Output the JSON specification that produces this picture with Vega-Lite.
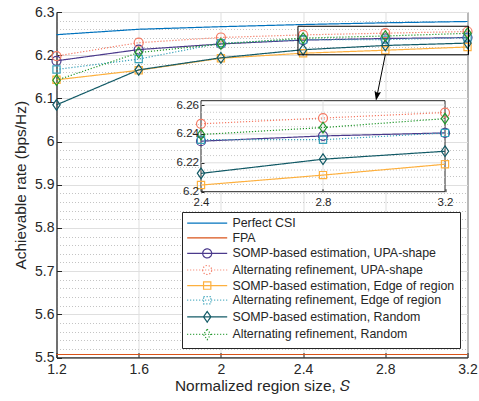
{
  "$schema": "https://vega.github.io/schema/vega-lite/v6.json",
  "width": 411,
  "height": 345.5,
  "autosize": {"type": "none"},
  "padding": {"left": 56.5, "top": 12, "right": 11.5, "bottom": 43.5},
  "background": "white",
  "config": {
    "view": {"stroke": "#262626", "strokeWidth": 1},
    "font": "Liberation Sans",
    "axis": {
      "labelFont": "Liberation Sans",
      "titleFont": "Liberation Sans",
      "labelColor": "#262626",
      "titleColor": "#262626",
      "domainColor": "#262626",
      "tickColor": "#262626",
      "titleFontWeight": "normal",
      "labelFlush": false,
      "labelOverlap": false
    }
  },
  "datasets": {
    "rates": [
      {"series": "Perfect CSI", "S": 1.2, "rate": 6.2475},
      {"series": "Perfect CSI", "S": 1.6, "rate": 6.26},
      {"series": "Perfect CSI", "S": 2.0, "rate": 6.266},
      {"series": "Perfect CSI", "S": 2.4, "rate": 6.271},
      {"series": "Perfect CSI", "S": 2.8, "rate": 6.275},
      {"series": "Perfect CSI", "S": 3.2, "rate": 6.278},
      {"series": "FPA", "S": 1.2, "rate": 5.507},
      {"series": "FPA", "S": 1.6, "rate": 5.507},
      {"series": "FPA", "S": 2.0, "rate": 5.507},
      {"series": "FPA", "S": 2.4, "rate": 5.507},
      {"series": "FPA", "S": 2.8, "rate": 5.507},
      {"series": "FPA", "S": 3.2, "rate": 5.507},
      {"series": "SOMP-based estimation, UPA-shape", "S": 1.2, "rate": 6.187},
      {"series": "SOMP-based estimation, UPA-shape", "S": 1.6, "rate": 6.213},
      {"series": "SOMP-based estimation, UPA-shape", "S": 2.0, "rate": 6.226},
      {"series": "SOMP-based estimation, UPA-shape", "S": 2.4, "rate": 6.235},
      {"series": "SOMP-based estimation, UPA-shape", "S": 2.8, "rate": 6.2386},
      {"series": "SOMP-based estimation, UPA-shape", "S": 3.2, "rate": 6.2407},
      {"series": "Alternating refinement, UPA-shape", "S": 1.2, "rate": 6.198},
      {"series": "Alternating refinement, UPA-shape", "S": 1.6, "rate": 6.229},
      {"series": "Alternating refinement, UPA-shape", "S": 2.0, "rate": 6.241},
      {"series": "Alternating refinement, UPA-shape", "S": 2.4, "rate": 6.247},
      {"series": "Alternating refinement, UPA-shape", "S": 2.8, "rate": 6.251},
      {"series": "Alternating refinement, UPA-shape", "S": 3.2, "rate": 6.2548},
      {"series": "SOMP-based estimation, Edge of region", "S": 1.2, "rate": 6.143},
      {"series": "SOMP-based estimation, Edge of region", "S": 1.6, "rate": 6.165},
      {"series": "SOMP-based estimation, Edge of region", "S": 2.0, "rate": 6.193},
      {"series": "SOMP-based estimation, Edge of region", "S": 2.4, "rate": 6.2046},
      {"series": "SOMP-based estimation, Edge of region", "S": 2.8, "rate": 6.2115},
      {"series": "SOMP-based estimation, Edge of region", "S": 3.2, "rate": 6.219},
      {"series": "Alternating refinement, Edge of region", "S": 1.2, "rate": 6.167},
      {"series": "Alternating refinement, Edge of region", "S": 1.6, "rate": 6.191},
      {"series": "Alternating refinement, Edge of region", "S": 2.0, "rate": 6.228},
      {"series": "Alternating refinement, Edge of region", "S": 2.4, "rate": 6.236},
      {"series": "Alternating refinement, Edge of region", "S": 2.8, "rate": 6.236},
      {"series": "Alternating refinement, Edge of region", "S": 3.2, "rate": 6.2407},
      {"series": "SOMP-based estimation, Random", "S": 1.2, "rate": 6.085},
      {"series": "SOMP-based estimation, Random", "S": 1.6, "rate": 6.166},
      {"series": "SOMP-based estimation, Random", "S": 2.0, "rate": 6.194},
      {"series": "SOMP-based estimation, Random", "S": 2.4, "rate": 6.2127},
      {"series": "SOMP-based estimation, Random", "S": 2.8, "rate": 6.2225},
      {"series": "SOMP-based estimation, Random", "S": 3.2, "rate": 6.228},
      {"series": "Alternating refinement, Random", "S": 1.2, "rate": 6.142},
      {"series": "Alternating refinement, Random", "S": 1.6, "rate": 6.206},
      {"series": "Alternating refinement, Random", "S": 2.0, "rate": 6.226},
      {"series": "Alternating refinement, Random", "S": 2.4, "rate": 6.2396},
      {"series": "Alternating refinement, Random", "S": 2.8, "rate": 6.2444},
      {"series": "Alternating refinement, Random", "S": 3.2, "rate": 6.2506}
    ]
  },
  "layer": [
    {
      "data": {"values": [{}]},
      "mark": {"type": "rule", "opacity": 0},
      "encoding": {
        "y": {
          "datum": 5.5, "type": "quantitative",
          "scale": {"domain": [5.5, 6.3], "nice": false, "zero": false},
          "axis": {
            "orient": "left",
            "values": [5.52,5.54,5.56,5.58,5.62,5.64,5.66,5.68,5.72,5.74,5.76,5.78,5.82,5.84,5.86,5.88,5.92,5.94,5.96,5.98,6.02,6.04,6.06,6.08,6.12,6.14,6.16,6.18,6.22,6.24,6.26,6.28],
            "grid": true, "gridColor": "#C4C4C4", "gridDash": [1, 2], "gridWidth": 1,
            "labels": false, "ticks": false, "domain": false, "title": null, "zindex": 0
          }
        }
      }
    },
    {
      "data": {"name": "rates"},
      "layer": [
        {
          "mark": {"type": "line", "strokeWidth": 1.2},
          "encoding": {
            "x": {
              "field": "S", "type": "quantitative",
              "scale": {"domain": [1.2, 3.2], "nice": false, "zero": false},
              "axis": {
                "values": [1.2, 1.6, 2, 2.4, 2.8, 3.2],
                "format": "~g",
                "title": "Normalized region size,  𝑆",
                "labelFontSize": 14,
                "titleFontSize": 15.4,
                "grid": true,
                "gridColor": "#DFDFDF",
                "tickSize": -5,
                "labelPadding": 10,
                "titlePadding": 2,
                "labelOverlap": false
              }
            },
            "y": {
              "field": "rate", "type": "quantitative",
              "scale": {"domain": [5.5, 6.3], "nice": false, "zero": false},
              "axis": {
                "orient": "left",
                "values": [5.5, 5.6, 5.7, 5.8, 5.9, 6, 6.1, 6.2, 6.3],
                "format": "~g",
                "labelOverlap": false,
                "title": "Achievable rate (bps/Hz)",
                "labelFontSize": 14,
                "titleFontSize": 15.4,
                "grid": true,
                "gridColor": "#DFDFDF",
                "tickSize": -5,
                "labelPadding": 7.5,
                "titlePadding": 6
              }
            },
            "color": {
              "field": "series", "type": "nominal",
              "scale": {
                "domain": ["Perfect CSI", "FPA", "SOMP-based estimation, UPA-shape", "Alternating refinement, UPA-shape", "SOMP-based estimation, Edge of region", "Alternating refinement, Edge of region", "SOMP-based estimation, Random", "Alternating refinement, Random"],
                "range": ["#0072BD", "#D95319", "#4B3A8C", "#F47A64", "#FDB03F", "#3AA2B9", "#125A66", "#21962B"]
              },
              "legend": {
                "title": null,
                "orient": "none",
                "legendX": 125.5,
                "legendY": 200,
                "direction": "vertical",
                "symbolSize": 100,
                "symbolStrokeWidth": 1.2,
                "labelOffset": 33,
                "labelFont": "Liberation Sans",
                "labelFontSize": 12.4,
                "labelColor": "#262626",
                "labelLimit": 400,
                "rowPadding": 1.6,
                "padding": 5,
                "strokeColor": "#262626",
                "fillColor": "white",
                "encode": {
                  "symbols": {
                    "update": {
                      "shape": {"signal": "['M-1.2,0H6.8','M-1.2,0H6.8','M-1.2,0H6.8M1.9,0A0.9,0.9 0 1,0 3.7,0A0.9,0.9 0 1,0 1.9,0Z','M-1.2,0h0.2M-0.6,0h0.2M0,0h0.2M0.6,0h0.2M1.2,0h0.2M1.8,0h0.2M2.4,0h0.2M3,0h0.2M3.6,0h0.2M4.2,0h0.2M4.8,0h0.2M5.4,0h0.2M6,0h0.2M6.6,0h0.2M1.9,0A0.9,0.9 0 1,0 3.7,0A0.9,0.9 0 1,0 1.9,0Z','M-1.2,0H6.8M2.07,-0.73H3.53V0.73H2.07Z','M-1.2,0h0.2M-0.6,0h0.2M0,0h0.2M0.6,0h0.2M1.2,0h0.2M1.8,0h0.2M2.4,0h0.2M3,0h0.2M3.6,0h0.2M4.2,0h0.2M4.8,0h0.2M5.4,0h0.2M6,0h0.2M6.6,0h0.2M2.07,-0.73H3.53V0.73H2.07Z','M-1.2,0H6.8M2.8,-1.06L3.54,0L2.8,1.06L2.06,0Z','M-1.2,0h0.2M-0.6,0h0.2M0,0h0.2M0.6,0h0.2M1.2,0h0.2M1.8,0h0.2M2.4,0h0.2M3,0h0.2M3.6,0h0.2M4.2,0h0.2M4.8,0h0.2M5.4,0h0.2M6,0h0.2M6.6,0h0.2M2.8,-1.06L3.54,0L2.8,1.06L2.06,0Z'][indexof(['Perfect CSI','FPA','SOMP-based estimation, UPA-shape','Alternating refinement, UPA-shape','SOMP-based estimation, Edge of region','Alternating refinement, Edge of region','SOMP-based estimation, Random','Alternating refinement, Random'], datum.value)]"},
                      "fill": {"value": "transparent"}
                    }
                  }
                }
              }
            },
            "strokeDash": {
              "field": "series", "type": "nominal",
              "scale": {
                "domain": ["Perfect CSI", "FPA", "SOMP-based estimation, UPA-shape", "Alternating refinement, UPA-shape", "SOMP-based estimation, Edge of region", "Alternating refinement, Edge of region", "SOMP-based estimation, Random", "Alternating refinement, Random"],
                "range": [[1, 0], [1, 0], [1, 0], [1.2, 1.8], [1, 0], [1.2, 1.8], [1, 0], [1.2, 1.8]]
              },
              "legend": null
            }
          }
        },
        {
          "transform": [{"filter": "datum.series !== 'Perfect CSI' && datum.series !== 'FPA'"}],
          "mark": {"type": "point", "filled": false, "strokeWidth": 1.2, "size": 81, "opacity": 1},
          "encoding": {
            "x": {"field": "S", "type": "quantitative"},
            "y": {"field": "rate", "type": "quantitative"},
            "color": {"field": "series", "type": "nominal", "legend": null},
            "shape": {
              "field": "series", "type": "nominal",
              "scale": {
                "domain": ["SOMP-based estimation, UPA-shape", "Alternating refinement, UPA-shape", "SOMP-based estimation, Edge of region", "Alternating refinement, Edge of region", "SOMP-based estimation, Random", "Alternating refinement, Random"],
                "range": ["circle", "circle", "M-0.8,-0.8H0.8V0.8H-0.8Z", "M-0.8,-0.8H0.8V0.8H-0.8Z", "M0,-1.18L0.82,0L0,1.18L-0.82,0Z", "M0,-1.18L0.82,0L0,1.18L-0.82,0Z"]
              },
              "legend": null
            }
          }
        },
        {
          "data": {"values": [{"x1": 2.375, "x2": 3.205, "y1": 6.201, "y2": 6.267}]},
          "mark": {"type": "rect", "fillOpacity": 0, "stroke": "#000000", "strokeWidth": 1},
          "encoding": {
            "x": {"field": "x1", "type": "quantitative"},
            "x2": {"field": "x2"},
            "y": {"field": "y1", "type": "quantitative"},
            "y2": {"field": "y2"}
          }
        },
        {
          "data": {"values": [{"x1": 2.8, "y1": 6.201, "x2": 2.7586, "y2": 6.1037}]},
          "mark": {"type": "rule", "stroke": "#000000", "strokeWidth": 1},
          "encoding": {
            "x": {"field": "x1", "type": "quantitative"},
            "x2": {"field": "x2"},
            "y": {"field": "y1", "type": "quantitative"},
            "y2": {"field": "y2"}
          }
        },
        {
          "data": {"values": [{"x": 2.76, "y": 6.1083}]},
          "mark": {"type": "point", "filled": true, "opacity": 1, "color": "#000000", "size": 144, "angle": 11, "shape": "M0,1L-0.55,-0.6L0,-0.3L0.55,-0.6Z"},
          "encoding": {
            "x": {"field": "x", "type": "quantitative"},
            "y": {"field": "y", "type": "quantitative"}
          }
        }
      ]
    },
    {
      "layer": [
        {
          "data": {"values": [{}]},
          "mark": {"type": "rect", "fill": "white", "stroke": "#262626", "strokeWidth": 1},
          "encoding": {
            "x": {
              "datum": 2.4, "type": "quantitative",
              "scale": {"domain": [2.4, 3.2], "range": [144.5, 388.5], "nice": false, "zero": false},
              "axis": {
                "orient": "bottom", "offset": -165.8, "values": [2.4, 2.8, 3.2], "format": "~g",
                "grid": false, "domain": false, "tickSize": -3, "labelFontSize": 11.5,
                "labelPadding": 8, "title": null, "zindex": 1
              }
            },
            "x2": {"datum": 3.2},
            "y": {
              "datum": 6.2, "type": "quantitative",
              "scale": {"domain": [6.2, 6.263], "range": [179.7, 88.7], "nice": false, "zero": false},
              "axis": {
                "orient": "left", "offset": -144.5, "values": [6.2, 6.22, 6.24, 6.26], "format": "~g",
                "grid": false, "domain": false, "tickSize": -3, "labelFontSize": 11.5,
                "labelPadding": 5.5, "title": null, "zindex": 1
              }
            },
            "y2": {"datum": 6.263}
          }
        },
        {
          "data": {"values": [{"v": 6.205}, {"v": 6.21}, {"v": 6.215}, {"v": 6.22}, {"v": 6.225}, {"v": 6.23}, {"v": 6.235}, {"v": 6.24}, {"v": 6.245}, {"v": 6.25}, {"v": 6.255}, {"v": 6.26}]},
          "mark": {"type": "rule", "strokeWidth": 1},
          "encoding": {
            "x": {"datum": 2.4, "type": "quantitative", "title": null},
            "x2": {"datum": 3.2},
            "y": {"field": "v", "type": "quantitative", "title": null},
            "stroke": {"condition": {"test": "abs(datum.v*50 - round(datum.v*50)) < 0.001", "value": "#DFDFDF"}, "value": "#C8C8C8"},
            "strokeDash": {"condition": {"test": "abs(datum.v*50 - round(datum.v*50)) < 0.001", "value": [1, 0]}, "value": [1, 2]}
          }
        },
        {
          "data": {"values": [{}]},
          "mark": {"type": "rule", "strokeWidth": 1, "stroke": "#DFDFDF"},
          "encoding": {
            "x": {"datum": 2.8, "type": "quantitative", "title": null},
            "y": {"datum": 6.2, "type": "quantitative", "title": null},
            "y2": {"datum": 6.263}
          }
        },
        {
          "data": {"name": "rates"},
          "transform": [{"filter": "datum.S >= 2.39 && datum.series !== 'Perfect CSI' && datum.series !== 'FPA'"}],
          "mark": {"type": "line", "strokeWidth": 1.2},
          "encoding": {
            "x": {"field": "S", "type": "quantitative", "title": null},
            "y": {"field": "rate", "type": "quantitative", "title": null},
            "color": {"field": "series", "type": "nominal", "legend": null},
            "strokeDash": {"field": "series", "type": "nominal", "legend": null}
          }
        },
        {
          "data": {"name": "rates"},
          "transform": [{"filter": "datum.S >= 2.39 && datum.series !== 'Perfect CSI' && datum.series !== 'FPA'"}],
          "mark": {"type": "point", "filled": false, "strokeWidth": 1.2, "size": 81, "opacity": 1},
          "encoding": {
            "x": {"field": "S", "type": "quantitative", "title": null},
            "y": {"field": "rate", "type": "quantitative", "title": null},
            "color": {"field": "series", "type": "nominal", "legend": null},
            "shape": {"field": "series", "type": "nominal", "legend": null}
          }
        }
      ]
    }
  ],
  "resolve": {"scale": {"x": "independent", "y": "independent"}}
}
